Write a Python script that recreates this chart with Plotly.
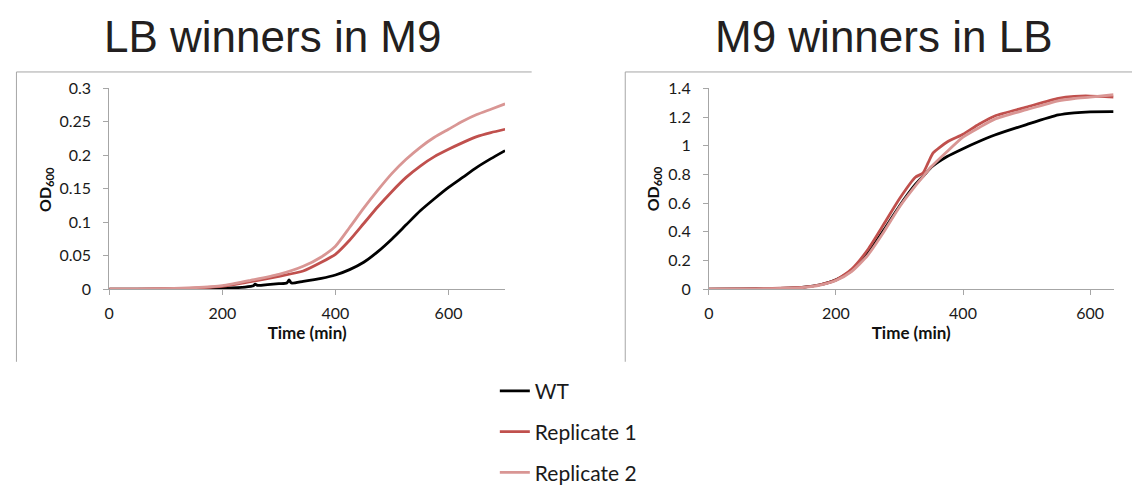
import plotly.graph_objects as go

W, H = 1132, 493

# ---------------- data: LB winners in M9 (left) ----------------
left_wt_t = [0, 50, 100, 150, 200, 240, 255, 258, 262, 280, 300, 314, 318, 322, 343, 375, 400,
             425, 450, 475, 500, 525, 550, 575, 600, 625, 650, 675, 700]
left_wt = [0, 0, 0, 0.0005, 0.0015, 0.003, 0.005, 0.0075, 0.0055, 0.0065, 0.008, 0.009, 0.0135,
           0.009, 0.0115, 0.016, 0.021, 0.029, 0.040, 0.056, 0.075, 0.096, 0.117, 0.135, 0.152,
           0.167, 0.182, 0.195, 0.207]
left_r1_t = [0, 50, 100, 150, 200, 250, 300, 343, 375, 400, 425, 450, 475, 500, 525, 550, 575,
             600, 625, 650, 675, 700]
left_r1 = [0, 0, 0.0005, 0.0015, 0.004, 0.011, 0.019, 0.027, 0.040, 0.052, 0.073, 0.098, 0.123,
           0.146, 0.167, 0.184, 0.198, 0.209, 0.219, 0.228, 0.234, 0.239]
left_r2_t = [0, 50, 100, 150, 200, 250, 300, 343, 375, 400, 425, 450, 475, 500, 525, 550, 575,
             600, 625, 650, 675, 700]
left_r2 = [0, 0, 0.0005, 0.002, 0.005, 0.013, 0.022, 0.034, 0.048, 0.064, 0.092, 0.121, 0.148,
           0.173, 0.194, 0.212, 0.227, 0.239, 0.251, 0.261, 0.269, 0.277]

# ---------------- data: M9 winners in LB (right) ----------------
right_wt_t = [0, 50, 100, 125, 150, 175, 200, 225, 250, 275, 300, 325, 340, 350, 375, 400, 425,
              450, 500, 550, 575, 600, 637]
right_wt = [0, 0.001, 0.004, 0.007, 0.013, 0.030, 0.064, 0.13, 0.25, 0.41, 0.58, 0.73, 0.80,
            0.85, 0.925, 0.98, 1.03, 1.075, 1.148, 1.215, 1.23, 1.237, 1.238]
right_r1_t = [0, 50, 100, 125, 150, 175, 200, 225, 250, 275, 300, 325, 337, 345, 353, 375, 400,
              425, 450, 500, 550, 575, 600, 637]
right_r1 = [0, 0.001, 0.004, 0.008, 0.014, 0.030, 0.064, 0.14, 0.274, 0.45, 0.63, 0.78, 0.81,
            0.88, 0.95, 1.026, 1.08, 1.15, 1.208, 1.27, 1.331, 1.345, 1.347, 1.34]
right_r2_t = [0, 50, 100, 125, 150, 175, 200, 225, 250, 275, 300, 325, 340, 350, 375, 400, 425,
              450, 500, 550, 575, 600, 637]
right_r2 = [0, 0.001, 0.003, 0.006, 0.012, 0.028, 0.060, 0.124, 0.235, 0.396, 0.573, 0.72, 0.80,
            0.853, 0.96, 1.06, 1.126, 1.186, 1.252, 1.314, 1.33, 1.34, 1.356]

series_names = ["WT", "Replicate 1", "Replicate 2"]
colors = ["#000000", "#c0504d", "#d99694"]
titles = ["LB winners in M9", "M9 winners in LB"]
x_title = "Time (min)"
y_title = "<b>OD<sub>600</sub></b>"

# ---------------- layout helpers (pixel -> paper) ----------------
def px(x):
    return x / W

def py(y):
    return 1 - y / H

fig = go.Figure()

left_data = [(left_wt_t, left_wt), (left_r1_t, left_r1), (left_r2_t, left_r2)]
right_data = [(right_wt_t, right_wt), (right_r1_t, right_r1), (right_r2_t, right_r2)]

for i, (t, v) in enumerate(left_data):
    fig.add_trace(go.Scatter(x=t, y=v, mode="lines", name=series_names[i],
                             line=dict(color=colors[i], width=2.8, shape="spline", smoothing=0.6),
                             xaxis="x", yaxis="y", legendgroup=str(i), showlegend=True))
for i, (t, v) in enumerate(right_data):
    fig.add_trace(go.Scatter(x=t, y=v, mode="lines", name=series_names[i],
                             line=dict(color=colors[i], width=2.8, shape="spline", smoothing=0.6),
                             xaxis="x2", yaxis="y2", legendgroup=str(i), showlegend=False))

tickfont = dict(family="Lato", size=16, color="#1a1a1a")
axcol = "#a6a6a6"
titlefont = dict(family="Lato", size=17, color="#111111", weight="bold")

def xaxis(domain, rng, anchor):
    return dict(domain=domain, range=rng, anchor=anchor, dtick=200, tick0=0,
                showline=True, linecolor=axcol, linewidth=1, ticks="outside", ticklen=5,
                tickcolor=axcol, showgrid=False, zeroline=False, tickfont=tickfont,
                ticklabelstandoff=5,
                title=dict(text=x_title, font=titlefont, standoff=4))

def yaxis(domain, rng, dtick, anchor):
    return dict(domain=domain, range=rng, anchor=anchor, dtick=dtick, tick0=0,
                showline=True, linecolor=axcol, linewidth=1, ticks="outside", ticklen=5,
                tickcolor=axcol, showgrid=False, zeroline=False, tickfont=tickfont,
                ticklabelstandoff=9)

ydom = [py(292.7), py(82.3)]
fig.update_layout(
    width=W, height=H, margin=dict(l=0, r=0, t=0, b=0),
    paper_bgcolor="white", plot_bgcolor="white",
    xaxis=xaxis([px(104.7), px(502.3)], [0, 700], "y"),
    yaxis=yaxis(ydom, [0, 0.3], 0.05, "x"),
    xaxis2=xaxis([px(707), px(1113.5)], [0, 637], "y2"),
    yaxis2=yaxis(ydom, [0, 1.4], 0.2, "x2"),
    legend=dict(x=px(492), y=py(378.3), xanchor="left", yanchor="top",
                font=dict(family="Lato", size=21, color="#1a1a1a"),
                tracegroupgap=10.5, bgcolor="rgba(0,0,0,0)", borderwidth=0),
    showlegend=True,
)

# titles
for cx, txt in [(269, titles[0]), (882, titles[1])]:
    fig.add_annotation(x=px(cx), y=py(27.4), xref="paper", yref="paper", text=txt,
                       showarrow=False, xanchor="center", yanchor="middle",
                       font=dict(family="Liberation Sans", size=44, color="#231f20"))

# y axis titles
for cx in [40, 651]:
    fig.add_annotation(x=px(cx), y=py(188), xref="paper", yref="paper",
                       text=y_title, textangle=-90, showarrow=False,
                       xanchor="center", yanchor="middle",
                       font=dict(family="Lato", size=16, color="#111111"))

# panel frames (left + top edges)
boxcol = "#a6a6a6"
for x0, x1 in [(11.5, 529), (623, 1132)]:
    fig.add_shape(type="line", xref="paper", yref="paper", x0=px(x0), x1=px(x0),
                  y0=py(65), y1=py(369), line=dict(color=boxcol, width=1))
    fig.add_shape(type="line", xref="paper", yref="paper", x0=px(x0), x1=px(x1),
                  y0=py(65), y1=py(65), line=dict(color=boxcol, width=1))

fig.write_html("out.html")
